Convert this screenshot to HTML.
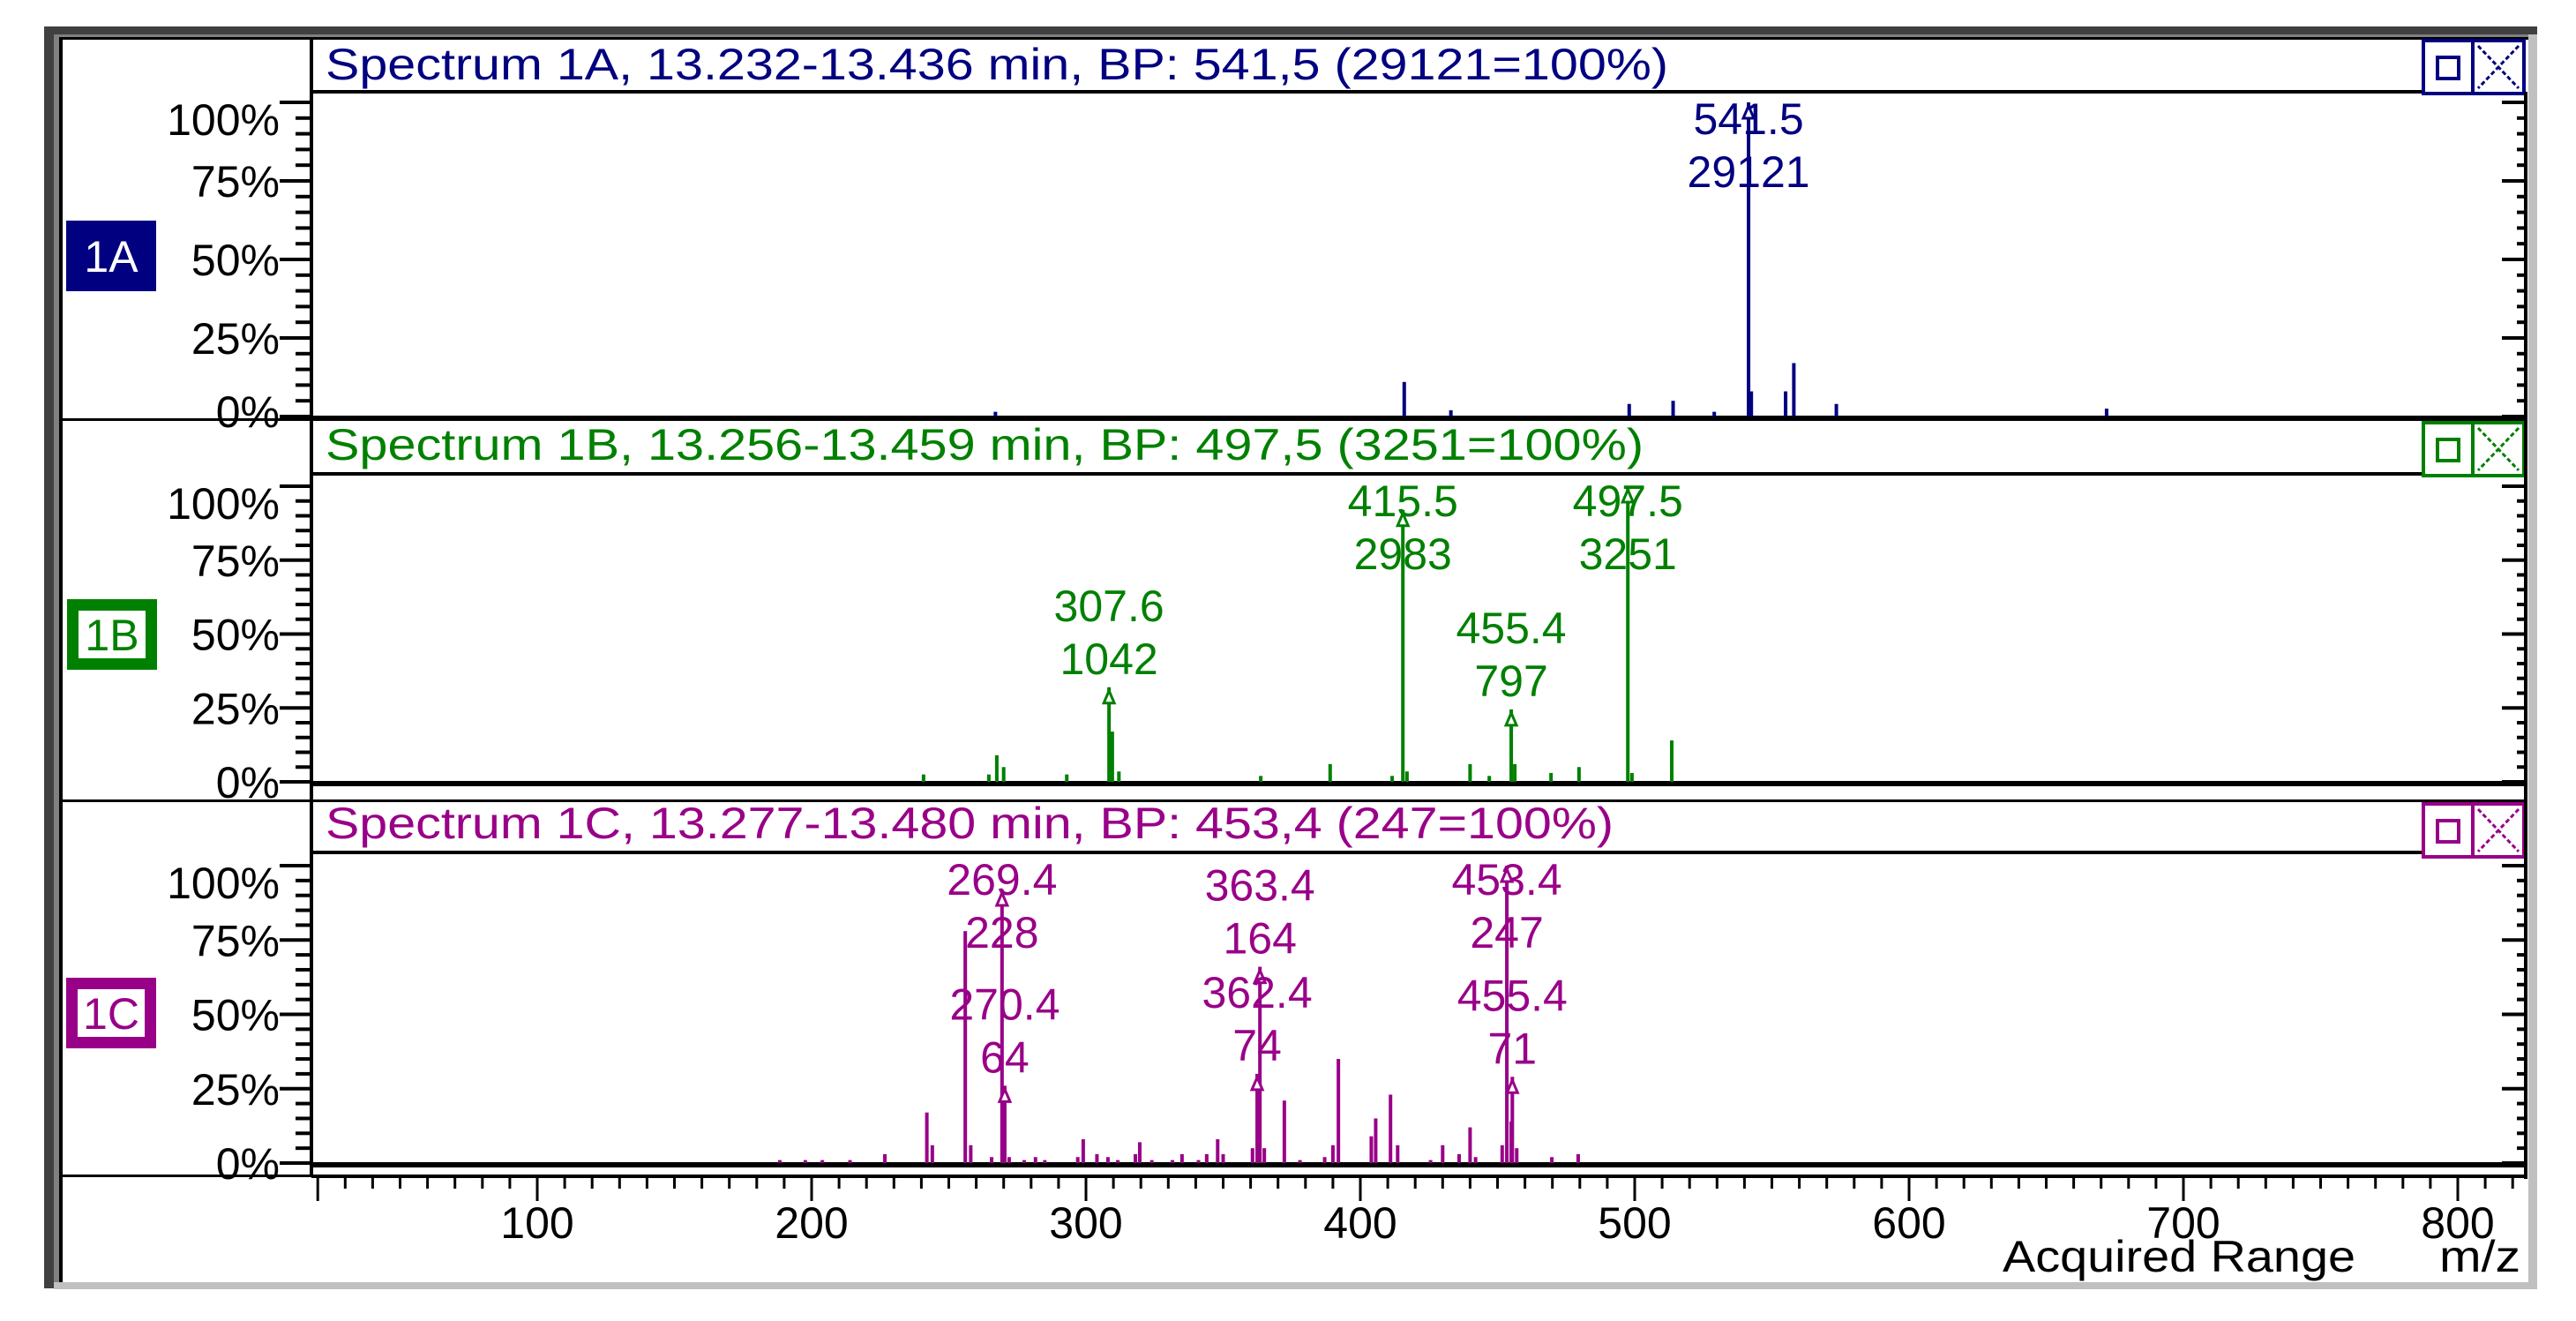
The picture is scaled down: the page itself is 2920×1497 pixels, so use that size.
<!DOCTYPE html>
<html><head><meta charset="utf-8">
<style>
html,body{margin:0;padding:0;background:#fff;}
svg{display:block;font-family:"Liberation Sans",Arial,sans-serif;}
</style></head>
<body>
<svg id="chart" width="2920" height="1497" viewBox="0 0 2920 1497" xmlns="http://www.w3.org/2000/svg">
<rect x="0" y="0" width="2920" height="1497" fill="#fff"/>
<!-- outer frame -->
<rect x="50" y="30" width="2826" height="9" fill="#404040"/>
<rect x="50" y="30" width="11" height="1430" fill="#404040"/>
<rect x="61" y="39" width="6" height="1421" fill="#808080"/>
<rect x="61" y="39" width="2805" height="3" fill="#808080"/>
<rect x="2866" y="39" width="10" height="1421" fill="#c0c0c0"/>
<rect x="61" y="1453" width="2815" height="8" fill="#c0c0c0"/>
<rect x="67" y="42" width="4" height="1411" fill="#000"/>
<rect x="67" y="42" width="2799" height="3" fill="#000"/>
<g id="layer"></g>
</svg>
<script>
// ---------- data ----------
const massA = [267, 416, 433, 498, 514, 529, 541.5, 542.5, 555, 558, 573.5, 672];
const intA  = [1.5, 11, 2, 4, 5, 1.5, 100, 8, 8, 17, 4, 2.5];
const labelMassA = ["541.5"];
const labelIntA  = ["29121"];
const labelPosA  = [541.5];
const labelPctA  = [100];

const massB = [240.8, 264.6, 267.5, 270, 293, 308.4, 309.6, 312, 363.7, 389, 411.6, 415.5, 417, 440, 447, 455, 456.3, 469.5, 479.7, 497.5, 499, 513.5];
const intB  = [2.5, 2.5, 9, 5, 2.5, 32, 17, 3.5, 2, 6, 2, 92, 3.5, 6, 2, 24.5, 6, 3, 5, 100, 3, 14];
const labelMassB = ["307.6", "415.5", "455.4", "497.5"];
const labelIntB  = ["1042", "2983", "797", "3251"];
const labelPosB  = [308.4, 415.5, 455, 497.5];
const labelPctB  = [32, 92, 24.5, 100];

const massC = [188.4, 197.7, 203.9, 214, 226.7, 242, 244, 256, 258, 265.6, 269.4, 270.4, 272, 277.5, 281.6, 285, 297, 299, 304, 308, 311.6, 318, 319.6, 324, 331.5, 335, 341, 344, 348, 350, 360.7, 362.4, 363.4, 365, 372.3, 378, 387, 390, 392, 404, 405.6, 411, 413.6, 425.6, 430, 436, 440, 442, 451.7, 453.4, 455, 455.4, 457, 469.8, 479.4];
const intC  = [1, 1, 1, 1, 3, 17, 6, 78, 6, 2, 92, 26, 2, 1, 2, 1, 2, 8, 3, 2, 1, 3, 7, 1, 1, 3, 1, 3, 8, 3, 5, 30, 66, 5, 21, 1, 2, 6, 35, 9, 15, 23, 6, 1, 6, 3, 12, 2, 6, 100, 14, 29, 5, 2, 3];
const labelMassC = ["269.4", "270.4", "363.4", "362.4", "453.4", "455.4"];
const labelIntC  = ["228", "64", "164", "74", "247", "71"];
const labelPosC  = [269.4, 270.4, 363.4, 362.4, 453.4, 455.4];
const labelPctC  = [92, 26, 66, 30, 100, 29];

const yTickLabels = ["0%", "25%", "50%", "75%", "100%"];
const xTickLabels = ["100", "200", "300", "400", "500", "600", "700", "800"];

// ---------- layout ----------
const NS = "http://www.w3.org/2000/svg";
const layer = document.getElementById("layer");
const PL = 353, PR = 2863;
function X(m){ return 609 + (m - 100) * 3.11; }
function mk(tag, attrs, parent){
  const e = document.createElementNS(NS, tag);
  for (const k in attrs) e.setAttribute(k, attrs[k]);
  (parent || layer).appendChild(e);
  return e;
}
const panels = [
  {id:"1a", title:"Spectrum 1A, 13.232-13.436 min, BP: 541,5 (29121=100%)", tlen:1522, color:"#000080",
   top:44, hb:104, base:90, y100:116, y0:472, bottom:475, box:[75,250], filled:true,
   mass:massA, ints:intA, lm:labelMassA, li:labelIntA, lp:labelPosA, lpc:labelPctA},
  {id:"1b", title:"Spectrum 1B, 13.256-13.459 min, BP: 497,5 (3251=100%)", tlen:1494, color:"#008000",
   top:477, hb:537, base:521, y100:551, y0:886, bottom:907, box:[76,679], filled:false,
   mass:massB, ints:intB, lm:labelMassB, li:labelIntB, lp:labelPosB, lpc:labelPctB},
  {id:"1c", title:"Spectrum 1C, 13.277-13.480 min, BP: 453,4 (247=100%)", tlen:1460, color:"#990088",
   top:909, hb:966, base:950, y100:981, y0:1318, bottom:1332, box:[75,1108], filled:false,
   mass:massC, ints:intC, lm:labelMassC, li:labelIntC, lp:labelPosC, lpc:labelPctC}
];

panels.forEach((p, pi) => {
  const g = mk("g", {});
  
  
  const Y = v => p.y0 - (v / 100) * (p.y0 - p.y100);
  // header
  const ht = mk("text", {x:369, y:p.base, "font-size":50, fill:p.color, textLength:p.tlen, lengthAdjust:"spacingAndGlyphs"}, g);
  ht.textContent = p.title;
  
  
  mk("rect", {x:PL, y:p.hb-2, width:PR-PL, height:4, fill:"#000"}, g);
  // buttons
  const bt = p.top + 2;
  const b1 = mk("g", {}, g);
  
  
  mk("rect", {x:2747, y:bt, width:56, height:60, fill:"#fff", stroke:p.color, "stroke-width":4}, b1);
  mk("rect", {x:2763, y:bt+19, width:24, height:24, fill:"none", stroke:p.color, "stroke-width":4}, b1);
  const b2 = mk("g", {}, g);
  
  
  mk("rect", {x:2803, y:bt, width:58, height:60, fill:"#fff", stroke:p.color, "stroke-width":4}, b2);
  mk("path", {d:`M2809 ${bt+6} L2855 ${bt+54} M2855 ${bt+6} L2809 ${bt+54}`, stroke:p.color, "stroke-width":3, "stroke-dasharray":"5 3"}, b2);
  // left label box
  const lb = mk("g", {}, g);
  
  
  if (p.filled) {
    mk("rect", {x:p.box[0], y:p.box[1], width:102, height:80, fill:p.color}, lb);
  } else {
    mk("rect", {x:p.box[0]+6.5, y:p.box[1]+6.5, width:89, height:67, fill:"#fff", stroke:p.color, "stroke-width":13}, lb);
  }
  const lt = mk("text", {x:p.box[0]+51, y:p.box[1]+58, "font-size":50, "text-anchor":"middle", fill:p.filled ? "#fff" : p.color}, lb);
  lt.textContent = p.id.toUpperCase();
  // y ticks left & right
  for (let v = 0; v <= 100; v += 5) {
    const y = Y(v), major = v % 25 === 0;
    mk("rect", {x: major ? 317 : 335, y:y-2, width: major ? 36 : 18, height:4, fill:"#000"}, g);
    mk("rect", {x:PR - (major ? 27 : 10), y:y-2, width: major ? 27 : 10, height:4, fill:"#000"}, g);
  }
  yTickLabels.forEach((s, i) => {
    const v = i * 25;
    let dy = 18;
    if (v === 100) dy = 37;
    if (v === 0 && pi === 0) dy = 12;
    const t = mk("text", {x:317, y:Y(v)+dy, "font-size":50, "text-anchor":"end", fill:"#000"}, g);
    t.textContent = s;
    
    
  });
  // baseline
  mk("rect", {x:PL, y:p.y0-1, width:PR-PL, height:pi===0?5:6, fill:"#000"}, g);
  // peaks
  p.mass.forEach((m, i) => {
    const r = mk("rect", {x:X(m)-2, y:Y(p.ints[i]), width:4, height:p.y0 - Y(p.ints[i]), fill:p.color}, g);
    
    
  });
  // peak labels
  p.lm.forEach((s, i) => {
    const x = X(p.lp[i]), top = Y(p.lpc[i]);
    const bTop = Math.max(p.hb + 11, top - 112);
    const t1 = mk("text", {x:x, y:bTop+37, "font-size":50, "text-anchor":"middle", fill:p.color}, g);
    t1.textContent = s;
    
    
    const t2 = mk("text", {x:x, y:bTop+97, "font-size":50, "text-anchor":"middle", fill:p.color}, g);
    t2.textContent = p.li[i];
    
    
    const mkr = mk("path", {d:`M${x-6} ${top+18} L${x} ${top+4} L${x+6} ${top+18} Z`, fill:"#fff", stroke:p.color, "stroke-width":3}, g);
    
    
  });
  // separator
  mk("rect", {x:67, y:p.bottom-1, width:PL-67, height:3, fill:"#000"}, g);
});
mk("rect", {x:PL-2, y:44, width:4, height:1290, fill:"#000"});
mk("rect", {x:PR-2, y:104, width:4, height:1232, fill:"#000"});
mk("rect", {x:PL, y:473, width:PR-PL, height:4, fill:"#000"});
mk("rect", {x:PL, y:906, width:PR-PL, height:3, fill:"#000"});

// x axis
const xa = mk("g", {});


mk("rect", {x:PL, y:1331, width:PR-PL, height:4, fill:"#000"}, xa);
for (let m = 20; m <= 820; m += 10) {
  const major = m % 100 === 0 || m === 20;
  mk("rect", {x:X(m)-1.5, y:1333, width:3, height: major ? 28 : 14, fill:"#000"}, xa);
}
xTickLabels.forEach(s => {
  const t = mk("text", {x:X(+s), y:1403, "font-size":50, "text-anchor":"middle", fill:"#000"}, xa);
  t.textContent = s;
  
  
});
const at = mk("text", {x:2270, y:1441, "font-size":50, fill:"#000", textLength:400, lengthAdjust:"spacingAndGlyphs"});
at.textContent = "Acquired Range";


const mz = mk("text", {x:2765, y:1441, "font-size":50, fill:"#000", textLength:92, lengthAdjust:"spacingAndGlyphs"});
mz.textContent = "m/z";


</script>
</body></html>
